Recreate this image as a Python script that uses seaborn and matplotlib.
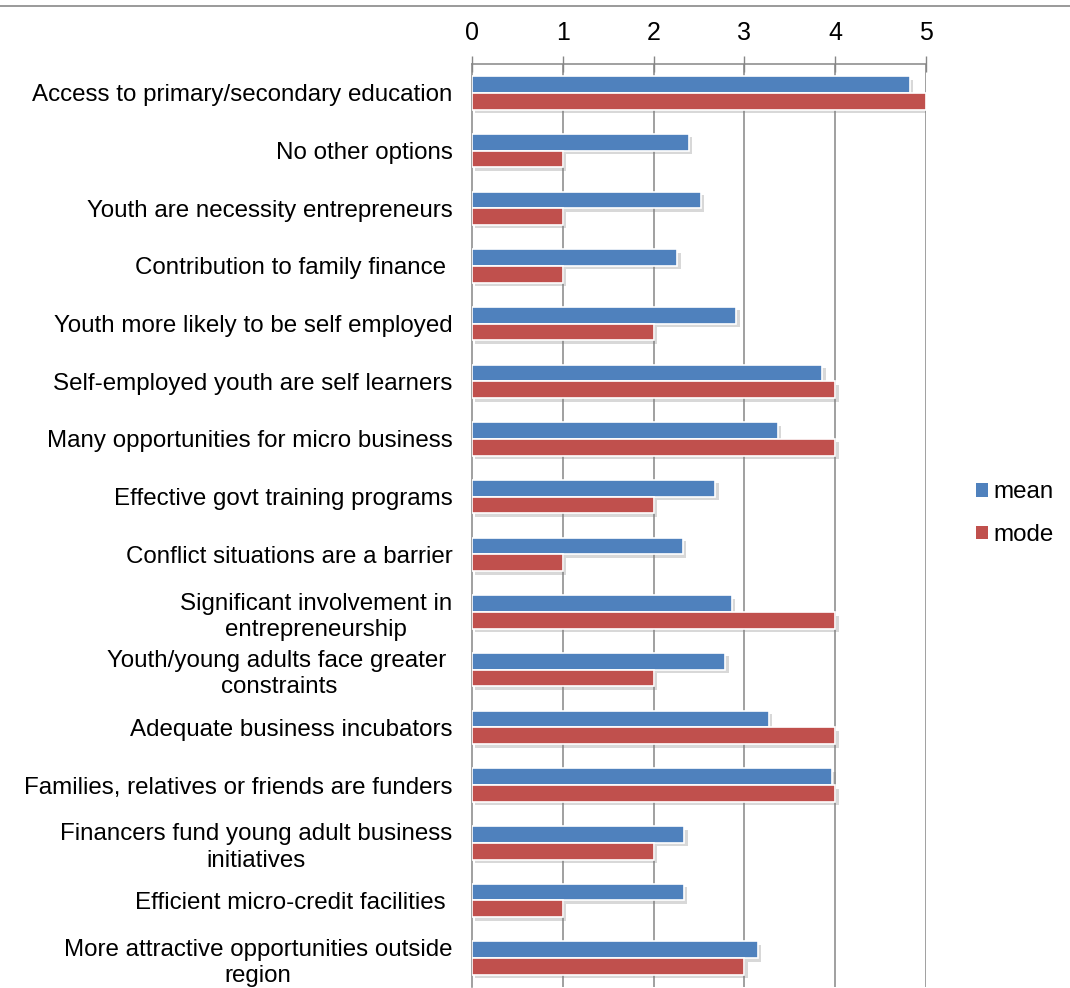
import matplotlib
matplotlib.use("Agg")
import matplotlib.pyplot as plt
import matplotlib.patheffects as pe
from matplotlib.lines import Line2D
from matplotlib.patches import Patch
import numpy as np
import pandas as pd
import seaborn as sns

categories = [
    "Access to primary/secondary education",
    "No other options",
    "Youth are necessity entrepreneurs",
    "Contribution to family finance ",
    "Youth more likely to be self employed",
    "Self-employed youth are self learners",
    "Many opportunities for micro business",
    "Effective govt training programs",
    "Conflict situations are a barrier",
    "Significant involvement in\nentrepreneurship",
    "Youth/young adults face greater \nconstraints",
    "Adequate business incubators",
    "Families, relatives or friends are funders",
    "Financers fund young adult business\ninitiatives",
    "Efficient micro-credit facilities ",
    "More attractive opportunities outside\nregion",
]
mean_values = [4.82, 2.39, 2.52, 2.26, 2.91, 3.86, 3.37, 2.68, 2.32, 2.86, 2.79, 3.27, 3.97, 2.34, 2.33, 3.15]
mode_values = [5, 1, 1, 1, 2, 4, 4, 2, 1, 4, 2, 4, 4, 2, 1, 3]
series_names = ["mean", "mode"]
x_ticks = [0, 1, 2, 3, 4, 5]

colors = {"mean": "#4F81BD", "mode": "#C0504D"}

df = pd.DataFrame({
    "item": categories * 2,
    "value": mean_values + mode_values,
    "stat": [series_names[0]] * len(categories) + [series_names[1]] * len(categories),
})

sns.set_style("white")
plt.rcParams["font.family"] = ["Liberation Sans", "DejaVu Sans"]
plt.rcParams["text.color"] = "black"
plt.rcParams["xtick.labelcolor"] = "black"
plt.rcParams["ytick.labelcolor"] = "black"

FS = 17.4

fig = plt.figure(figsize=(10.7, 9.88), dpi=100)
ax = fig.add_axes([0.4411, 0.001, 0.4243, 0.9342])

sns.barplot(data=df, y="item", x="value", hue="stat", orient="h",
            palette=colors, width=0.58, ax=ax, legend=False,
            edgecolor="white", linewidth=1.2, saturation=1)

shadow = [pe.SimplePatchShadow(offset=(2.5, -2.5), shadow_rgbFace="#7f7f7f", alpha=0.3), pe.Normal()]
for p in ax.patches:
    p.set_path_effects(shadow)
    p.set_zorder(3)

n = len(categories)
ax.set_xlim(0, 5)
ax.set_ylim(n - 0.5, -0.5)

# value axis along the top
ax.xaxis.tick_top()
ax.set_xticks(x_ticks)
ax.set_xticklabels([str(t) for t in x_ticks], fontsize=18)
ax.tick_params(axis="x", which="major", direction="inout", length=12, width=1,
               color="#868686", pad=8)
for t in x_ticks[1:]:
    ax.axvline(t, color="#868686", lw=1.1, zorder=1)

# category labels, with ticks on the boundaries between groups
ax.set_yticks(np.arange(n))
ax.set_yticklabels(categories, fontsize=FS, multialignment="center", linespacing=1.25)
ax.tick_params(axis="y", which="major", length=0, pad=14)
ax.set_yticks(np.arange(n + 1) - 0.5, minor=True)
ax.tick_params(axis="y", which="minor", direction="out", length=6, width=1, color="#868686")

ax.set_xlabel("")
ax.set_ylabel("")
for side in ["right", "bottom"]:
    ax.spines[side].set_visible(False)
for side in ["left", "top"]:
    ax.spines[side].set_color("#868686")
    ax.spines[side].set_linewidth(1.1)

handles = [Patch(facecolor=colors[s], edgecolor="none") for s in series_names]
fig.legend(handles, series_names, loc="center left", bbox_to_anchor=(0.892, 0.48),
           frameon=False, fontsize=FS, handlelength=0.5, handleheight=0.5,
           handletextpad=0.2, labelspacing=0.85)

fig.add_artist(Line2D([0, 1], [0.994, 0.994], color="#898989", lw=1.2,
                      transform=fig.transFigure))

fig.savefig("out.png", dpi=100)
